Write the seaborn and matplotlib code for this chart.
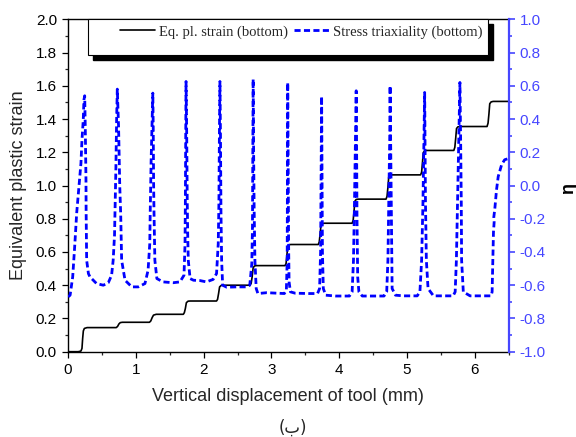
import matplotlib
matplotlib.use("Agg")
import matplotlib.pyplot as plt
import matplotlib.transforms as mtransforms
from matplotlib.patches import Rectangle
from matplotlib.lines import Line2D
from matplotlib.ticker import MultipleLocator, FormatStrFormatter
import pandas as pd
import seaborn as sns

# Equivalent plastic strain at the bottom of the sheet vs tool displacement (mm)
disp_strain = [0.00, 0.15, 0.19, 0.205, 0.215, 0.225, 0.24, 0.28,
               0.71, 0.73, 0.75, 0.77, 0.80,
               1.20, 1.22, 1.24, 1.26, 1.30,
               1.70, 1.715, 1.73, 1.745, 1.77, 1.80,
               2.19, 2.205, 2.22, 2.235, 2.26, 2.29,
               2.68, 2.70, 2.715, 2.73, 2.75, 2.78,
               3.20, 3.215, 3.228, 3.24, 3.26, 3.29,
               3.69, 3.705, 3.718, 3.73, 3.75, 3.78,
               4.19, 4.205, 4.218, 4.23, 4.25, 4.28,
               4.69, 4.705, 4.718, 4.73, 4.75, 4.78,
               5.20, 5.215, 5.228, 5.24, 5.26, 5.29,
               5.69, 5.705, 5.718, 5.73, 5.75, 5.78,
               6.18, 6.195, 6.208, 6.22, 6.24, 6.27, 6.50]
eq_strain = [0.000, 0.000, 0.004, 0.020, 0.080, 0.125, 0.140, 0.145,
             0.145, 0.152, 0.167, 0.175, 0.177,
             0.177, 0.185, 0.205, 0.220, 0.225,
             0.225, 0.235, 0.260, 0.295, 0.304, 0.305,
             0.305, 0.315, 0.350, 0.390, 0.399, 0.400,
             0.400, 0.410, 0.450, 0.505, 0.516, 0.518,
             0.518, 0.530, 0.580, 0.635, 0.644, 0.645,
             0.645, 0.660, 0.710, 0.760, 0.771, 0.773,
             0.773, 0.790, 0.845, 0.905, 0.916, 0.918,
             0.918, 0.935, 0.990, 1.050, 1.062, 1.064,
             1.064, 1.080, 1.140, 1.198, 1.209, 1.211,
             1.211, 1.230, 1.285, 1.343, 1.353, 1.355,
             1.355, 1.375, 1.430, 1.492, 1.503, 1.506, 1.506]

# Stress triaxiality (eta) at the bottom of the sheet vs tool displacement (mm)
disp_triax = [0.000, 0.030, 0.068, 0.100, 0.127, 0.156, 0.190, 0.205, 0.224, 0.234, 0.245,
              0.254, 0.264, 0.266, 0.274, 0.300, 0.323, 0.420, 0.520, 0.593, 0.642,
              0.665, 0.685, 0.692, 0.705, 0.716, 0.726,
              0.745, 0.762, 0.776, 0.785, 0.790, 0.840, 0.940, 1.035, 1.134, 1.180, 1.205,
              1.212, 1.225, 1.240, 1.250,
              1.256, 1.262, 1.267, 1.280, 1.310, 1.400, 1.550, 1.650, 1.710, 1.725,
              1.730, 1.735, 1.740,
              1.750, 1.758, 1.765, 1.773, 1.800, 1.850, 1.945, 2.040, 2.140, 2.190, 2.215,
              2.225, 2.232, 2.240,
              2.248, 2.255, 2.265, 2.280, 2.340, 2.490, 2.634, 2.680, 2.710, 2.720,
              2.725, 2.730,
              2.737, 2.745, 2.756, 2.775, 2.800, 2.930, 3.080, 3.190, 3.220, 3.232,
              3.236, 3.240,
              3.247, 3.253, 3.260, 3.280, 3.350, 3.550, 3.680, 3.710, 3.725,
              3.732, 3.740,
              3.745, 3.752, 3.765, 3.800, 3.950, 4.150, 4.190, 4.210,
              4.225, 4.240, 4.250,
              4.255, 4.262, 4.272, 4.290, 4.340, 4.500, 4.660, 4.700, 4.718,
              4.730, 4.745, 4.750,
              4.757, 4.765, 4.772, 4.780, 4.830, 4.950, 5.150, 5.190, 5.215,
              5.235, 5.250, 5.260,
              5.265, 5.272, 5.285, 5.310, 5.390, 5.550, 5.680, 5.710, 5.728,
              5.745, 5.765, 5.780,
              5.790, 5.800, 5.805, 5.830, 5.930, 6.100, 6.240, 6.255, 6.265,
              6.275, 6.285, 6.280, 6.295, 6.320, 6.345, 6.395, 6.440, 6.480]
triax = [-0.670, -0.660, -0.550, -0.350, -0.165, -0.026, 0.135, 0.275, 0.396, 0.516, 0.540,
         0.340, 0.030, -0.150, -0.450, -0.530, -0.550, -0.590, -0.600, -0.585, -0.540,
         -0.450, -0.300, -0.170, 0.100, 0.400, 0.580,
         0.350, 0.000, -0.170, -0.350, -0.450, -0.570, -0.610, -0.610, -0.590, -0.510, -0.350,
         -0.150, 0.150, 0.400, 0.556,
         0.350, 0.000, -0.150, -0.450, -0.560, -0.580, -0.585, -0.580, -0.540, -0.350,
         -0.100, 0.300, 0.626,
         0.300, -0.100, -0.300, -0.450, -0.560, -0.570, -0.572, -0.580, -0.565, -0.530, -0.350,
         -0.100, 0.300, 0.626,
         0.300, -0.150, -0.450, -0.600, -0.612, -0.610, -0.610, -0.600, -0.470, -0.250,
         0.200, 0.640,
         0.200, -0.150, -0.450, -0.620, -0.650, -0.645, -0.648, -0.650, -0.630, -0.450,
         0.100, 0.620,
         0.100, -0.350, -0.580, -0.640, -0.648, -0.650, -0.650, -0.620, -0.400,
         0.000, 0.536,
         0.100, -0.400, -0.620, -0.660, -0.665, -0.665, -0.640, -0.450,
         -0.100, 0.300, 0.570,
         0.300, -0.200, -0.550, -0.640, -0.665, -0.665, -0.665, -0.640, -0.450,
         -0.100, 0.300, 0.600,
         0.300, -0.100, -0.400, -0.620, -0.660, -0.664, -0.664, -0.640, -0.450,
         -0.100, 0.300, 0.560,
         0.300, -0.100, -0.450, -0.620, -0.664, -0.664, -0.664, -0.640, -0.450,
         -0.100, 0.300, 0.620,
         0.300, -0.100, -0.450, -0.640, -0.664, -0.664, -0.664, -0.640, -0.450,
         -0.280, -0.220, -0.190, -0.140, -0.026, 0.054, 0.125, 0.155, 0.160]

x_label = "Vertical displacement of tool (mm)"
y_label = "Equivalent plastic strain"
y2_label = "\u03b7"
strain_name = "Eq. pl. strain (bottom)"
triax_name = "Stress triaxiality (bottom)"
panel_tag = "(\u0628)"

strain_df = pd.DataFrame({"disp": disp_strain, "strain": eq_strain})
triax_df = pd.DataFrame({"disp": disp_triax, "eta": triax})

sns.set_style("ticks")
plt.rcParams["font.family"] = ["Liberation Sans", "DejaVu Sans"]
plt.rcParams["axes.unicode_minus"] = False

axis_blue = "#4646ff"
line_blue = "#0000ff"

fig = plt.figure(figsize=(5.76, 4.37), dpi=100)
ax = fig.add_axes([0.1182, 0.1952, 0.765, 0.7606])

sns.lineplot(data=strain_df, x="disp", y="strain", sort=False, estimator=None,
             color="black", linewidth=1.2, ax=ax)
ax.set_xlim(0, 6.5)
ax.set_ylim(0, 2.0)
ax.xaxis.set_major_locator(MultipleLocator(1))
ax.xaxis.set_minor_locator(MultipleLocator(0.5))
ax.yaxis.set_major_locator(MultipleLocator(0.2))
ax.yaxis.set_minor_locator(MultipleLocator(0.1))
ax.yaxis.set_major_formatter(FormatStrFormatter("%.1f"))
ax.tick_params(which="major", direction="out", length=4.5, width=0.9, labelsize=11, colors="black")
ax.tick_params(which="minor", direction="out", length=2.5, width=0.9)
ax.tick_params(axis="x", which="both", top=False)
ax.set_xlabel(x_label, fontsize=13)
ax.set_ylabel(y_label, fontsize=13)
ax.xaxis.set_label_coords(0.5, -0.108)
ax.yaxis.set_label_coords(-0.094, 0.5)
for side in ("left", "bottom", "top"):
    ax.spines[side].set_color("black")
    ax.spines[side].set_linewidth(1.0)
ax.spines["right"].set_visible(False)

ax2 = ax.twinx()
sns.lineplot(data=triax_df, x="disp", y="eta", sort=False, estimator=None,
             color=line_blue, linewidth=2.0, linestyle=(0, (2.2, 1.2)), ax=ax2)
ax2.set_ylim(-1.0, 1.0)
ax2.set_xlim(0, 6.5)
ax2.yaxis.set_major_locator(MultipleLocator(0.2))
ax2.yaxis.set_minor_locator(MultipleLocator(0.1))
ax2.yaxis.set_major_formatter(FormatStrFormatter("%.1f"))
ax2.tick_params(axis="y", which="major", direction="out", length=4.5, width=1.2,
                labelsize=11, colors=axis_blue)
ax2.tick_params(axis="y", which="minor", direction="out", length=2.5, width=1.2, colors=axis_blue)
ax2.spines["right"].set_color(axis_blue)
ax2.spines["right"].set_linewidth(1.6)
for side in ("left", "bottom", "top"):
    ax2.spines[side].set_visible(False)
ax2.set_xlabel("")
ax2.set_ylabel(y2_label, fontsize=13, fontweight="bold", color="black")
ax2.yaxis.set_label_coords(1.117, 0.49)

# Legend box with a solid offset shadow
box_x0, box_x1, box_y0, box_y1 = 0.045, 0.953, 0.8935, 1.0
shadow_tr = mtransforms.offset_copy(ax2.transAxes, fig=fig, x=3.6, y=-3.6, units="points")
ax2.add_patch(Rectangle((box_x0, box_y0), box_x1 - box_x0, box_y1 - box_y0,
                        transform=shadow_tr, facecolor="black", edgecolor="black",
                        clip_on=False, zorder=5))
ax2.add_patch(Rectangle((box_x0, box_y0), box_x1 - box_x0, box_y1 - box_y0,
                        transform=ax2.transAxes, facecolor="white", edgecolor="black",
                        linewidth=0.8, clip_on=False, zorder=6))
handles = [Line2D([], [], color="black", linewidth=1.2),
           Line2D([], [], color=line_blue, linewidth=2.0, linestyle=(0, (2.2, 1.2)))]
leg = ax2.legend(handles, [strain_name, triax_name], ncol=2, loc="center",
                 bbox_to_anchor=(0.529, 0.962), frameon=False,
                 prop={"family": "Liberation Serif", "size": 10.5},
                 handlelength=2.4, handletextpad=0.3, columnspacing=0.4,
                 borderpad=0.0, borderaxespad=0.0)
leg.set_zorder(7)

fig.text(0.509, 0.022, panel_tag, fontsize=12, ha="center", va="center",
         family=["DejaVu Sans"])

fig.savefig("out.png", dpi=100)
